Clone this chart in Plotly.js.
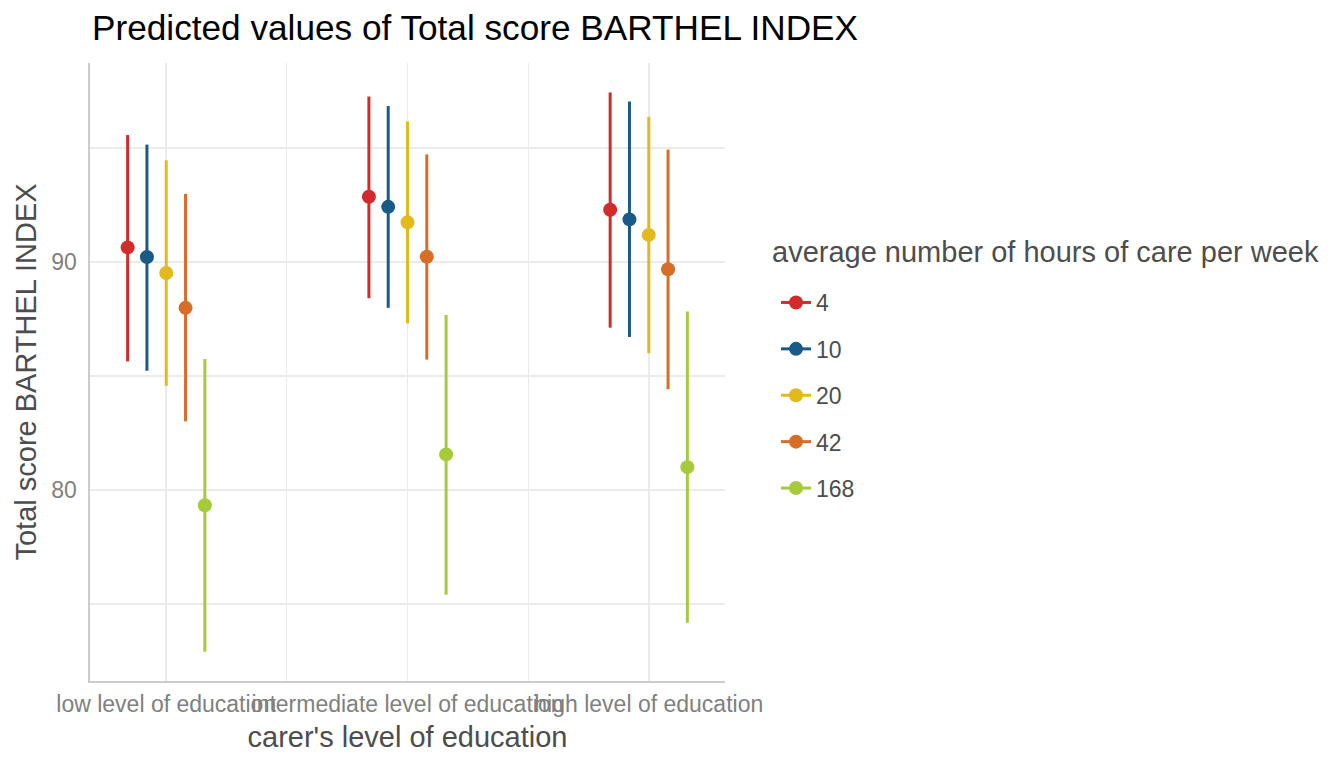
<!DOCTYPE html>
<html>
<head>
<meta charset="utf-8">
<script src="https://cdn.plot.ly/plotly-3.0.1.min.js"></script>
<style>
  html, body { margin: 0; padding: 0; background: #fff; }
  #barthel_chart { width: 1344px; height: 768px; }
</style>
</head>
<body>
<div id="barthel_chart"></div>
<script>
// carer's level of education (x categories)
var education = ["low level of education", "intermediate level of education", "high level of education"]
// average number of hours of care per week (groups)
var hours = ["4", "10", "20", "42", "168"]
var hour_colors = ["#d32b2c", "#1a5a87", "#e2ba1e", "#d76e28", "#a6cb3a"]

// predicted values and confidence limits, one array per group, in education order
var pred_4 = [90.64, 92.86, 92.29]
var low_4 = [85.64, 88.41, 87.12]
var high_4 = [95.57, 97.26, 97.44]

var pred_10 = [90.22, 92.42, 91.87]
var low_10 = [85.23, 87.99, 86.71]
var high_10 = [95.15, 96.84, 97.04]

var pred_20 = [89.52, 91.74, 91.19]
var low_20 = [84.57, 87.31, 86.00]
var high_20 = [94.46, 96.17, 96.37]

var pred_42 = [87.99, 90.23, 89.68]
var low_42 = [83.01, 85.72, 84.42]
var high_42 = [92.99, 94.72, 94.93]

var pred_168 = [79.33, 81.56, 81.00]
var low_168 = [72.90, 75.40, 74.18]
var high_168 = [85.74, 87.68, 87.83]

var preds = [pred_4, pred_10, pred_20, pred_42, pred_168]
var lows = [low_4, low_10, low_20, low_42, low_168]
var highs = [high_4, high_10, high_20, high_42, high_168]

var dodge = 0.08
var font_family = "Liberation Sans, Arial, sans-serif"

// put a null between categories so the legend gets a line sample
// but no line is drawn between the dodged points
function gapped(arr) {
    out = []
    for (i=0; i<arr.length; i++) {
        if (i > 0) out.push(null)
        out.push(arr[i])
    }
    return out
}

var data = []
for (g=0; g<hours.length; g++) {
    xs = [], up = [], down = []
    for (c=0; c<education.length; c++) {
        xs.push(c + (g - (hours.length - 1) / 2) * dodge)
        up.push(highs[g][c] - preds[g][c])
        down.push(preds[g][c] - lows[g][c])
    }
    data.push({
        x: gapped(xs),
        y: gapped(preds[g]),
        name: hours[g],
        legendgroup: hours[g],
        type: 'scatter',
        mode: 'lines+markers',
        connectgaps: false,
        line: {color: hour_colors[g], width: 3},
        marker: {color: hour_colors[g], size: 14},
        error_y: {
            type: 'data',
            symmetric: false,
            array: gapped(up),
            arrayminus: gapped(down),
            width: 0,
            thickness: 3,
            color: hour_colors[g],
        },
        hoverinfo: 'skip',
    })
}

var layout = {
    width: 1344,
    height: 768,
    margin: {t: 63, l: 90, r: 619, b: 87, pad: 0},
    paper_bgcolor: 'white',
    plot_bgcolor: 'white',
    font: {family: font_family, color: '#4d4d4d'},
    title: {
        text: 'Predicted values of Total score BARTHEL INDEX',
        font: {size: 35.2, color: '#000000', family: font_family},
        xref: 'container',
        x: 92 / 1344,
        xanchor: 'left',
        yref: 'container',
        y: 0.964,
        yanchor: 'middle',
    },
    xaxis: {
        range: [-0.316, 2.316],
        tickmode: 'array',
        tickvals: [0, 1, 2],
        ticktext: education,
        tickangle: 0,
        ticks: '',
        ticklabelstandoff: 2,
        tickfont: {size: 23, color: '#808080'},
        showgrid: true,
        gridcolor: '#ebebeb',
        gridwidth: 1.6,
        minor: {tickmode: 'linear', tick0: 0.5, dtick: 1, showgrid: true, gridcolor: '#ebebeb', gridwidth: 1.2},
        showline: true,
        linecolor: '#cccccc',
        linewidth: 1.6,
        zeroline: false,
        fixedrange: true,
        title: {text: "carer's level of education", font: {size: 29, color: '#4d4d4d'}, standoff: 10},
    },
    yaxis: {
        range: [71.62, 98.73],
        tickmode: 'linear',
        tick0: 0,
        dtick: 10,
        ticks: '',
        ticklabelstandoff: 7,
        tickfont: {size: 23, color: '#808080'},
        showgrid: true,
        gridcolor: '#ebebeb',
        gridwidth: 1.6,
        minor: {tickmode: 'linear', tick0: 5, dtick: 10, showgrid: true, gridcolor: '#ebebeb', gridwidth: 1.2},
        showline: true,
        linecolor: '#cccccc',
        linewidth: 1.6,
        zeroline: false,
        fixedrange: true,
        title: {text: 'Total score BARTHEL INDEX', font: {size: 29, color: '#4d4d4d'}, standoff: 6},
    },
    showlegend: true,
    legend: {
        x: (770 - 90) / 635,
        xanchor: 'left',
        y: (681 - 281) / 618,
        yanchor: 'top',
        bgcolor: 'rgba(0,0,0,0)',
        font: {size: 23, color: '#4d4d4d'},
        tracegroupgap: 13.5,
        indentation: 6,
        itemsizing: 'trace',
    },
    // legend heading, kept apart from the legend box to get the same gap as the reference
    annotations: [{
        text: 'average number of hours of care per week',
        xref: 'paper', yref: 'paper',
        x: (770 - 90) / 635,
        y: (681 - 252) / 618,
        xanchor: 'left',
        yanchor: 'middle',
        showarrow: false,
        font: {size: 29, color: '#4d4d4d'},
    }],
}

Plotly.newPlot('barthel_chart', data, layout, {displayModeBar: false, showTips: false, staticPlot: true})
</script>
</body>
</html>
